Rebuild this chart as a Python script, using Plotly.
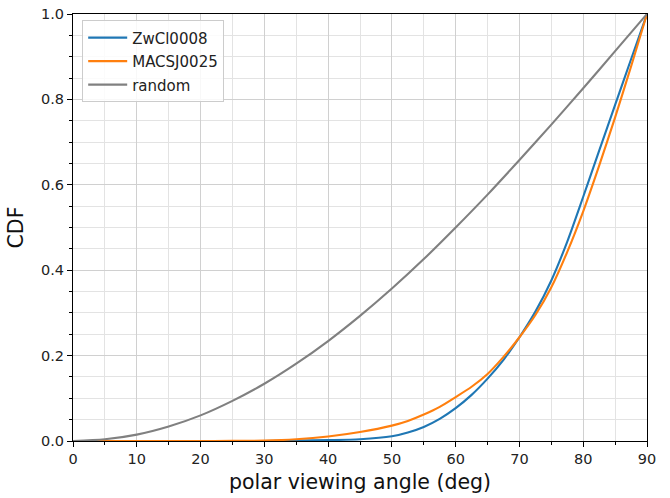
import plotly.graph_objects as go

angle_zw = [0, 10, 20, 30, 35, 40, 45, 50, 52.5, 55, 57.5, 60, 62.5, 65, 67.5, 70, 72.5, 75, 77.5, 80, 82.5, 85, 87.5, 90]
cdf_zw = [0, 0, 0, 0, 0.001, 0.002, 0.004, 0.011, 0.02, 0.033, 0.052, 0.077, 0.108, 0.146, 0.19, 0.243, 0.303, 0.376, 0.467, 0.572, 0.68, 0.787, 0.894, 1.0]

angle_macs = [0, 10, 20, 25, 30, 35, 40, 45, 50, 52.5, 55, 57.5, 60, 62.5, 65, 67.5, 70, 72.5, 75, 77.5, 80, 82.5, 85, 87.5, 90]
cdf_macs = [0, 0, 0, 0.0005, 0.001, 0.004, 0.0105, 0.021, 0.036, 0.047, 0.062, 0.08, 0.103, 0.127, 0.157, 0.197, 0.243, 0.295, 0.36, 0.443, 0.538, 0.645, 0.758, 0.877, 1.0]

angle_rand = [0, 5, 10, 15, 20, 25, 30, 35, 40, 45, 50, 55, 60, 65, 70, 75, 80, 85, 90]
cdf_rand = [0, 0.004, 0.015, 0.034, 0.060, 0.094, 0.134, 0.181, 0.234, 0.293, 0.357, 0.426, 0.5, 0.577, 0.658, 0.741, 0.826, 0.913, 1.0]

series_names = ["ZwCl0008", "MACSJ0025", "random"]
colors = ["#1f77b4", "#ff7f0e", "#808080"]

fig = go.Figure()
for name, xs, ys, c in zip(series_names, [angle_zw, angle_macs, angle_rand],
                           [cdf_zw, cdf_macs, cdf_rand], colors):
    fig.add_trace(go.Scatter(x=xs, y=ys, mode="lines", name=name, legendgroup=name,
                             line=dict(color=c, width=2.1, shape="spline", smoothing=0.8)))

axis_common = dict(
    showline=True, linecolor="black", linewidth=1, mirror=True,
    ticks="outside", ticklen=5, tickcolor="black", tickwidth=1,
    showgrid=True, gridcolor="#d0d0d0", gridwidth=1, zeroline=False,
    automargin=False, ticklabeloverflow="allow",
    tickfont=dict(family="DejaVu Sans", size=14.5, color="#222"),
)

fig.update_layout(
    width=670, height=498,
    margin=dict(l=73, r=23, t=14, b=57),
    paper_bgcolor="white", plot_bgcolor="white",
    font=dict(family="DejaVu Sans", color="black"),
    xaxis=dict(range=[0, 90], dtick=10, tick0=0,
               title=dict(text="polar viewing angle (deg)", font=dict(size=20.5, color="#111"), standoff=8),
               minor=dict(dtick=5, ticks="outside", ticklen=3, tickcolor="black",
                          showgrid=True, gridcolor="#e3e3e3"),
               **axis_common),
    yaxis=dict(range=[0, 1], dtick=0.2, tick0=0, tickformat=".1f",
               title=dict(text="CDF", font=dict(size=20.5, color="#111"), standoff=11),
               minor=dict(dtick=0.05, ticks="outside", ticklen=3, tickcolor="black",
                          showgrid=True, gridcolor="#e3e3e3"),
               **axis_common),
    legend=dict(x=0.016, y=0.985, xanchor="left", yanchor="top",
                bgcolor="rgba(255,255,255,0.85)", bordercolor="#cccccc", borderwidth=1,
                font=dict(family="DejaVu Sans", size=15, color="#222"),
                itemwidth=39, traceorder="grouped", tracegroupgap=1),
    showlegend=True,
)

# remove the default 8px page margin so the figure sits at the window's corner
fig.write_html("out.html", config={"displayModeBar": False},
               post_script="document.body.style.margin='0px';")
